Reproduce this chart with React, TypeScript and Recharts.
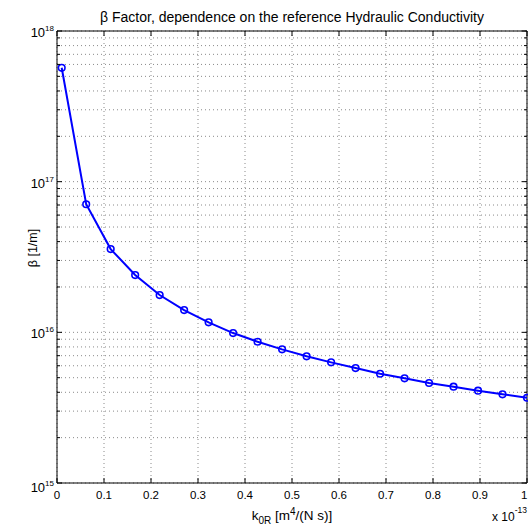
import React from 'react';
import { LineChart, Line, XAxis, YAxis, CartesianGrid, ReferenceArea, Label } from 'recharts';

const kValues = [0.01, 0.0621, 0.1142, 0.1663, 0.2184, 0.2705, 0.3226, 0.3747, 0.4268, 0.4789, 0.5311, 0.5832, 0.6353, 0.6874, 0.7395, 0.7916, 0.8437, 0.8958, 0.9479, 1.0];
const betaValues = [5.7e17, 7.08e16, 3.57e16, 2.4e16, 1.768e16, 1.406e16, 1.165e16, 9.89e15, 8.66e15, 7.71e15, 6.93e15, 6.32e15, 5.79e15, 5.31e15, 4.95e15, 4.61e15, 4.36e15, 4.1e15, 3.88e15, 3.68e15];
const xTicks = [0, 0.1, 0.2, 0.3, 0.4, 0.5, 0.6, 0.7, 0.8, 0.9, 1];
const xTickLabels = ['0', '0.1', '0.2', '0.3', '0.4', '0.5', '0.6', '0.7', '0.8', '0.9', '1'];
const yMajorTicks = [1e15, 1e16, 1e17, 1e18];
const yMajorExponents = ['15', '16', '17', '18'];
const yMinorTicks = [
  2e15, 3e15, 4e15, 5e15, 6e15, 7e15, 8e15, 9e15,
  2e16, 3e16, 4e16, 5e16, 6e16, 7e16, 8e16, 9e16,
  2e17, 3e17, 4e17, 5e17, 6e17, 7e17, 8e17, 9e17,
];
const yTicks = [...yMajorTicks, ...yMinorTicks].sort((a, b) => a - b);

const data = kValues.map((k, i) => ({ k, beta: betaValues[i] }));

const W = 528;
const H = 529;
const LEFT = 57;
const RIGHT_M = 1;
const TOP = 31;
const XAXIS_H = 46;
const RIGHT = W - RIGHT_M;
const BOTTOM = H - XAXIS_H;
const FONT = '"Liberation Sans", Arial, Helvetica, sans-serif';

const XTick = (props: any) => {
  const { x, payload } = props;
  const idx = xTicks.findIndex((t) => Math.abs(t - payload.value) < 1e-9);
  const label = idx >= 0 ? xTickLabels[idx] : String(payload.value);
  const isLast = idx === xTicks.length - 1;
  return (
    <g>
      <line x1={x} x2={x} y1={BOTTOM} y2={BOTTOM - 5} stroke="#000" strokeWidth={1} />
      <line x1={x} x2={x} y1={TOP} y2={TOP + 5} stroke="#000" strokeWidth={1} />
      <text x={isLast ? x + 0.5 : x} y={BOTTOM + 16} textAnchor={isLast ? 'end' : 'middle'} fontSize={11.5} fontFamily={FONT} fill="#000">
        {label}
      </text>
    </g>
  );
};

const YTick = (props: any) => {
  const { y, payload } = props;
  const v = payload.value;
  const mi = yMajorTicks.findIndex((t) => Math.abs(t - v) / t < 1e-6);
  const len = mi >= 0 ? 5 : 3;
  return (
    <g>
      <line x1={LEFT} x2={LEFT + len} y1={y} y2={y} stroke="#000" strokeWidth={1} />
      <line x1={RIGHT - len} x2={RIGHT} y1={y} y2={y} stroke="#000" strokeWidth={1} />
      {mi >= 0 && (
        <text x={LEFT - 3} y={y + (mi === 0 ? 8.5 : 6)} textAnchor="end" fontSize={13} fontFamily={FONT} fill="#000">
          <tspan>10</tspan>
          <tspan fontSize={8} dy={-6}>{yMajorExponents[mi]}</tspan>
        </text>
      )}
    </g>
  );
};

const TitleLabel = (props: any) => {
  const vb = props.viewBox || {};
  const cx = (vb.x ?? LEFT) + (vb.width ?? RIGHT - LEFT) / 2;
  return (
    <text x={cx} y={TOP - 9} textAnchor="middle" fontSize={14} fontFamily={FONT} fill="#000">
      β Factor, dependence on the reference Hydraulic Conductivity
    </text>
  );
};

const XLabel = (props: any) => {
  const vb = props.viewBox || {};
  const cx = (vb.x ?? LEFT) + (vb.width ?? RIGHT - LEFT) / 2;
  return (
    <g>
      <text x={cx} y={BOTTOM + 37} textAnchor="middle" fontSize={13.5} fontFamily={FONT} fill="#000">
        <tspan>k</tspan>
        <tspan fontSize={10} dy={4}>0R</tspan>
        <tspan dy={-4}> [m</tspan>
        <tspan fontSize={10} dy={-5}>4</tspan>
        <tspan dy={5}>/(N s)]</tspan>
      </text>
      <text x={RIGHT} y={BOTTOM + 38} textAnchor="end" fontSize={12} fontFamily={FONT} fill="#000">
        <tspan>x 10</tspan>
        <tspan fontSize={8.5} dy={-8}>-13</tspan>
      </text>
    </g>
  );
};

const YLabel = (props: any) => {
  const vb = props.viewBox || {};
  const cy = (vb.y ?? TOP) + (vb.height ?? BOTTOM - TOP) / 2 - 9;
  const x = 37;
  return (
    <text x={x} y={cy} textAnchor="middle" fontSize={12.5} fontFamily={FONT} fill="#000" transform={`rotate(-90, ${x}, ${cy})`}>
      β [1/m]
    </text>
  );
};

export default function App() {
  return (
    <div style={{ position: 'absolute', left: 0, top: 0, width: W, height: H, background: '#fff' }}>
      <LineChart width={W} height={H} data={data} margin={{ top: TOP, right: RIGHT_M, bottom: 0, left: 0 }}>
        <CartesianGrid stroke="#8a8a8a" strokeDasharray="1 3" strokeWidth={1} />
        <XAxis
          dataKey="k"
          type="number"
          domain={[0, 1]}
          ticks={xTicks}
          height={XAXIS_H}
          axisLine={false}
          tickLine={false}
          tick={<XTick />}
          interval={0}
        >
          <Label content={<XLabel />} />
        </XAxis>
        <YAxis
          dataKey="beta"
          type="number"
          scale="log"
          domain={[1e15, 1e18]}
          allowDataOverflow
          ticks={yTicks}
          width={LEFT}
          axisLine={false}
          tickLine={false}
          tick={<YTick />}
          interval={0}
        >
          <Label content={<YLabel />} />
        </YAxis>
        <Line
          dataKey="beta"
          stroke="#0000ff"
          strokeWidth={2}
          dot={{ r: 3.3, stroke: '#0000ff', strokeWidth: 1.6, fill: 'none' }}
          isAnimationActive={false}
        />
        <ReferenceArea x1={0} x2={1} y1={1e15} y2={1e18} fill="none" stroke="#000" strokeWidth={1} ifOverflow="visible">
          <Label content={<TitleLabel />} />
        </ReferenceArea>
      </LineChart>
    </div>
  );
}
